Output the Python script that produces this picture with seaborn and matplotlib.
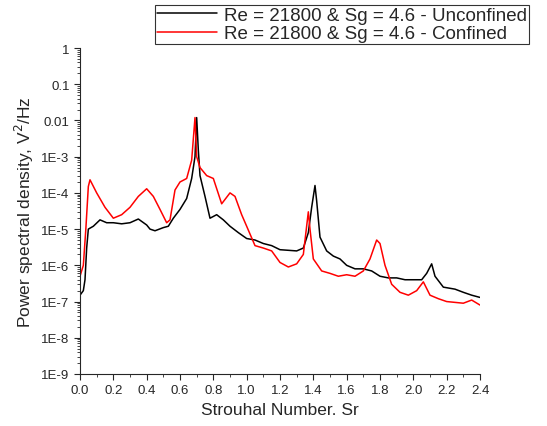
import math
import matplotlib
matplotlib.use("Agg")
import matplotlib.pyplot as plt
import matplotlib.ticker as mticker
import seaborn as sns
import pandas as pd

sr_unconf = [0, 0.02, 0.03, 0.04, 0.05, 0.08, 0.12, 0.16, 0.2, 0.25, 0.3, 0.35, 0.4, 0.42, 0.45, 0.5, 0.53,
             0.56, 0.6, 0.64, 0.67, 0.69, 0.70, 0.71, 0.72, 0.75, 0.78, 0.82, 0.86, 0.9, 0.95, 1.0, 1.05,
             1.1, 1.15, 1.2, 1.25, 1.3, 1.34, 1.37, 1.39, 1.41, 1.42, 1.44, 1.48, 1.52, 1.56, 1.6, 1.65,
             1.7, 1.75, 1.8, 1.85, 1.9, 1.95, 2.0, 2.05, 2.08, 2.11, 2.13, 2.18, 2.25, 2.3, 2.35, 2.4]
psd_unconf = [1.5e-7, 2e-7, 4e-7, 3e-6, 1e-5, 1.2e-5, 1.8e-5, 1.5e-5, 1.5e-5, 1.4e-5, 1.5e-5, 1.9e-5, 1.3e-5,
              1e-5, 9e-6, 1.1e-5, 1.2e-5, 2e-5, 3.5e-5, 7e-5, 2.5e-4, 1e-3, 1.2e-2, 1.5e-3, 3e-4, 8e-5,
              2e-5, 2.5e-5, 1.8e-5, 1.2e-5, 8e-6, 5.5e-6, 5e-6, 4e-6, 3.5e-6, 2.7e-6, 2.6e-6, 2.5e-6, 3e-6,
              8e-6, 4e-5, 1.6e-4, 6e-5, 6e-6, 2.5e-6, 1.8e-6, 1.5e-6, 1e-6, 8e-7, 8e-7, 7e-7, 5e-7, 4.5e-7,
              4.5e-7, 4e-7, 4e-7, 4e-7, 6e-7, 1.1e-6, 5e-7, 2.5e-7, 2.2e-7, 1.8e-7, 1.5e-7, 1.3e-7]

sr_conf = [0, 0.02, 0.035, 0.05, 0.06, 0.1, 0.15, 0.2, 0.25, 0.3, 0.35, 0.4, 0.44, 0.48, 0.52, 0.54, 0.57,
           0.6, 0.64, 0.67, 0.69, 0.70, 0.72, 0.76, 0.8, 0.85, 0.9, 0.93, 0.97, 1.0, 1.05, 1.1, 1.15, 1.2,
           1.25, 1.3, 1.34, 1.37, 1.38, 1.4, 1.45, 1.5, 1.55, 1.6, 1.65, 1.7, 1.74, 1.78, 1.8, 1.83, 1.87,
           1.92, 1.97, 2.02, 2.06, 2.1, 2.15, 2.2, 2.3, 2.35, 2.4]
psd_conf = [5e-7, 1e-6, 1e-5, 1.5e-4, 2.3e-4, 1e-4, 4e-5, 2e-5, 2.5e-5, 4e-5, 8e-5, 1.3e-4, 8e-5, 3.5e-5,
            1.5e-5, 1.8e-5, 1.2e-4, 2e-4, 2.5e-4, 8e-4, 1.2e-2, 1e-3, 5e-4, 3e-4, 2.5e-4, 5e-5, 1e-4, 8e-5,
            2.5e-5, 1.2e-5, 3.5e-6, 3e-6, 2.5e-6, 1.2e-6, 9e-7, 1.1e-6, 2e-6, 3e-5, 1e-5, 1.5e-6, 7e-7,
            6e-7, 5e-7, 5.5e-7, 5e-7, 7e-7, 1.5e-6, 5e-6, 4e-6, 1e-6, 3e-7, 1.8e-7, 1.5e-7, 2e-7, 3.5e-7,
            1.5e-7, 1.2e-7, 1e-7, 9e-8, 1.1e-7, 8e-8]

lab_unconf = "Re = 21800 & Sg = 4.6 - Unconfined"
lab_conf = "Re = 21800 & Sg = 4.6 - Confined"

df = pd.concat([
    pd.DataFrame({"sr": sr_unconf, "psd": psd_unconf, "case": lab_unconf}),
    pd.DataFrame({"sr": sr_conf, "psd": psd_conf, "case": lab_conf}),
])

sns.set_style("ticks")
plt.rcParams["font.family"] = ["Liberation Sans", "DejaVu Sans"]

fig = plt.figure(figsize=(5.47, 4.27), dpi=100)
ax = fig.add_axes([80 / 547, 1 - 375 / 427, 400 / 547, 326 / 427])
sns.lineplot(data=df, x="sr", y="psd", hue="case", sort=False, estimator=None,
             palette={lab_unconf: "black", lab_conf: "red"}, lw=1.1, ax=ax, legend=False)
ax.set_yscale("log")
ax.set_xlim(0, 2.4)
ax.set_ylim(1e-9, 1)

ylabels = {1: "1", 0.1: "0.1", 0.01: "0.01"}
ax.yaxis.set_major_locator(mticker.LogLocator(base=10, numticks=12))
ax.yaxis.set_major_formatter(mticker.FuncFormatter(
    lambda v, p: ylabels.get(round(v, 8), "1E%d" % round(math.log10(v)))))
ax.yaxis.set_minor_locator(mticker.LogLocator(base=10, subs=range(2, 10), numticks=12))
ax.yaxis.set_minor_formatter(mticker.NullFormatter())
ax.xaxis.set_major_locator(mticker.MultipleLocator(0.2))
ax.xaxis.set_minor_locator(mticker.MultipleLocator(0.1))
ax.xaxis.set_major_formatter(mticker.FormatStrFormatter("%.1f"))
ax.tick_params(labelsize=9.5, direction="out", length=4, width=0.8)
ax.tick_params(which="minor", length=2, width=0.6)
sns.despine(ax=ax)
ax.set_xlabel("Strouhal Number. Sr", fontsize=12.5)
ax.set_ylabel("Power spectral density, V$^2$/Hz", fontsize=12.5)

handles = [plt.Line2D([], [], color="black", lw=1.1), plt.Line2D([], [], color="red", lw=1.1)]
leg = fig.legend(handles, [lab_unconf, lab_conf], loc="upper left", bbox_to_anchor=(155 / 547, 1 - 6 / 427),
                 fontsize=13.5, frameon=True, fancybox=False, edgecolor="black", handlelength=3.2,
                 handletextpad=0.4, borderpad=0.1, labelspacing=0.05, borderaxespad=0)
leg.get_frame().set_linewidth(0.8)

fig.savefig("out.png", dpi=100)
